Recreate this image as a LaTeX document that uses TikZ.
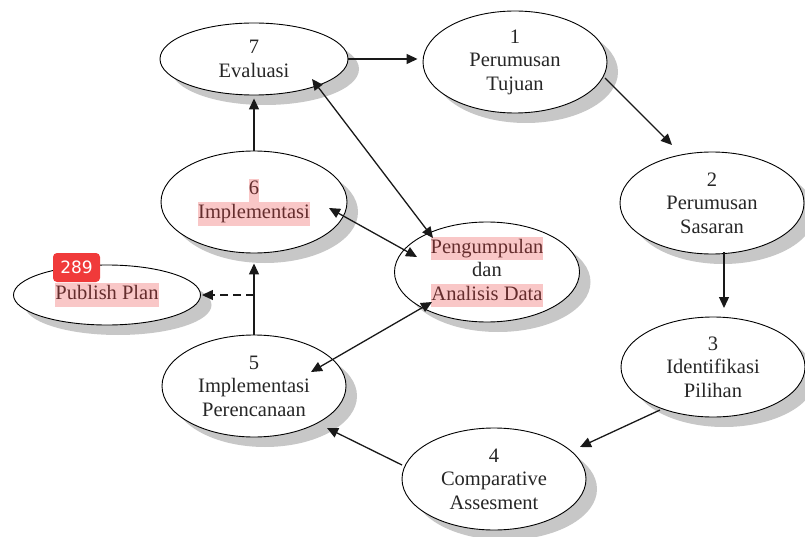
\documentclass[tikz,border=0pt]{standalone}
\usepackage{fontspec}
\setmainfont{Liberation Serif}
\newfontfamily\badgefont{DejaVu Sans}
\usetikzlibrary{arrows.meta,shapes.geometric,shadows}
\definecolor{hlpink}{RGB}{249,199,199}
\definecolor{hltext}{RGB}{100,45,45}
\definecolor{badgered}{RGB}{240,58,58}
\newcommand{\hilite}[1]{{\setlength{\fboxsep}{0pt}\colorbox{hlpink}{\strut\textcolor{hltext}{#1}}}}
\tikzset{>/.tip={Triangle[length=11pt,width=10pt]},
  stage/.style={ellipse, draw, line width=0.9pt, fill=white, inner sep=0pt,
    minimum width=184pt, minimum height=102pt, align=center, text=black!85,
    font=\fontsize{20.5}{23.5}\selectfont,
    drop shadow={shadow xshift=11pt, shadow yshift=-10pt, fill=black!22, opacity=1}},
  link/.style={->, line width=1.3pt, color=black!90},
  badge/.style={fill=badgered, rounded corners=4pt, text=white, inner sep=0pt,
    minimum width=47pt, minimum height=29pt, font=\badgefont\fontsize{17}{17}\selectfont}}

\begin{document}
\begin{tikzpicture}[x=1pt, y=-1pt]
\useasboundingbox (0,0) rectangle (805,537);

\node[stage, minimum width=188pt, minimum height=72pt] (s7) at (254,59) {7\\Evaluasi};
\node[stage] (s1) at (515,62) {1\\Perumusan\\Tujuan};
\node[stage] (s2) at (712,203) {2\\Perumusan\\Sasaran};
\node[stage, minimum height=100pt] (s3) at (713,367) {3\\Identifikasi\\Pilihan};
\node[stage] (s4) at (494,479) {4\\Comparative\\Assesment};
\node[stage] (s5) at (254,386) {5\\Implementasi\\Perencanaan};
\node[stage, minimum width=186pt] (s6) at (254,202) {\hilite{6}\\\hilite{Implementasi}};
\node[stage, minimum width=185pt, minimum height=100pt] (pad) at (487,272) {\hilite{Pengumpulan}\\dan\\\hilite{Analisis Data}};
\node[stage, minimum width=187pt, minimum height=60pt] (pp) at (107,295) {\hilite{Publish Plan}};
\node[badge] (b289) at (76.5,267.5) {289};

\coordinate (fork) at (s5.north |- pp.east);

% main cycle
\path[link] (s7.east) edge[shorten >=5pt] (s7.east -| s1.west);
\path[link] ([shift={(90,16)}]s1.center) edge ([shift={(-40,-58)}]s2.center);
\path[link] ([shift={(12,49)}]s2.center) edge ([shift={(11,-59)}]s3.center);
\path[link] ([shift={(-53,43)}]s3.center) edge ([shift={(86,-32)}]s4.center);
\path[link] ([shift={(-92,-14)}]s4.center) edge ([shift={(73,42)}]s5.center);
\path[link] (s5.north) edge[shorten >=10pt] (s6.south);
\path[link] (s6.north) edge[shorten >=3pt] (s7.south);
\path[link, dash pattern=on 8pt off 5pt] (fork) edge[shorten >=1pt] (pp.east);

% data links
\path[link, <->] ([shift={(-54,-34)}]pad.center) edge ([shift={(58,20)}]s7.center);
\path[link, <->] ([shift={(-70,-15)}]pad.center) edge ([shift={(75,6)}]s6.center);
\path[link, <->] ([shift={(-55,30)}]pad.center) edge ([shift={(57,-14)}]s5.center);
\end{tikzpicture}
\end{document}
